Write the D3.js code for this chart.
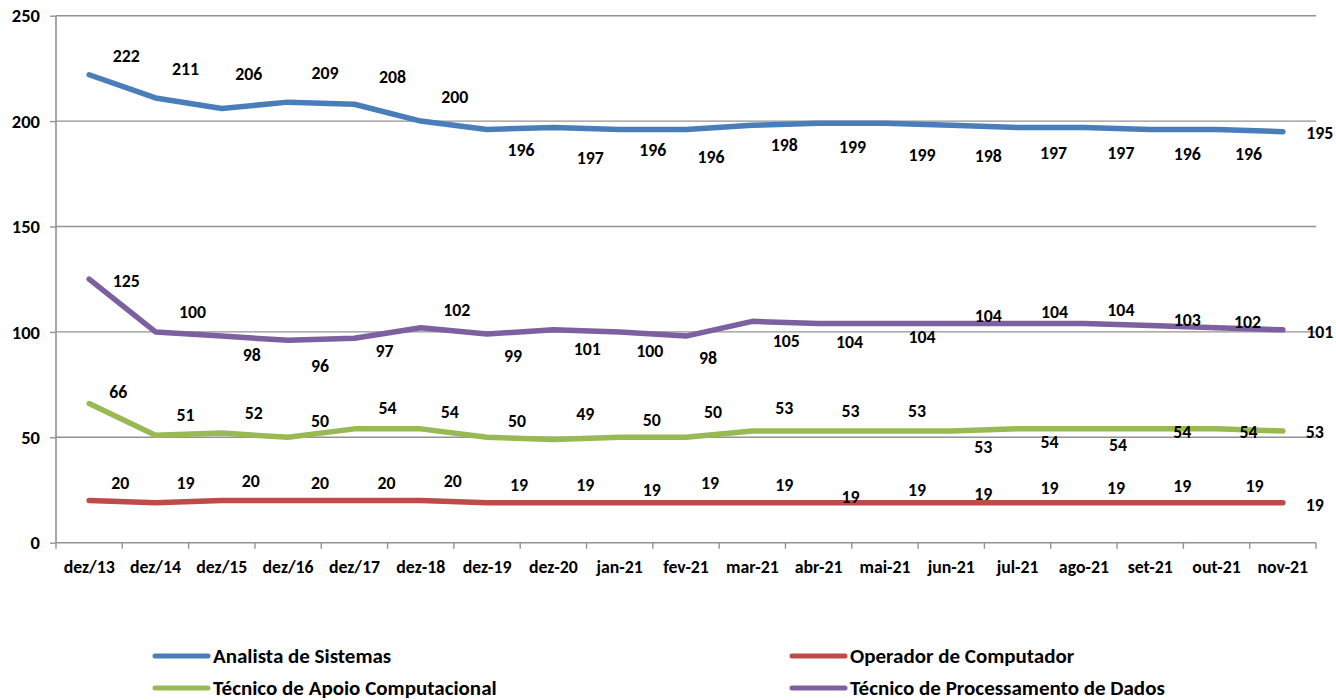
<!DOCTYPE html>
<html><head><meta charset="utf-8">
<script src="https://cdn.jsdelivr.net/npm/d3@7"></script>
<style>
html,body{margin:0;padding:0;background:#fff;}
svg text{font-family:Carlito,Lato,"Open Sans",sans-serif;font-weight:bold;fill:#000;}
</style></head>
<body>
<svg id="chart" width="1336" height="700"></svg>
<script>
const categories = ["dez/13","dez/14","dez/15","dez/16","dez/17","dez-18","dez-19","dez-20","jan-21","fev-21","mar-21","abr-21","mai-21","jun-21","jul-21","ago-21","set-21","out-21","nov-21"];
const analistaSistemas = [222,211,206,209,208,200,196,197,196,196,198,199,199,198,197,197,196,196,195];
const operadorComputador = [20,19,20,20,20,20,19,19,19,19,19,19,19,19,19,19,19,19,19];
const tecnicoApoio = [66,51,52,50,54,54,50,49,50,50,53,53,53,53,54,54,54,54,53];
const tecnicoProcessamento = [125,100,98,96,97,102,99,101,100,98,105,104,104,104,104,104,103,102,101];
const yTicks = [0,50,100,150,200,250];
const seriesNames = ["Analista de Sistemas","Operador de Computador","Técnico de Apoio Computacional","Técnico de Processamento de Dados"];

// label placement offsets (pixels from the point), as placed in the original
const offAnalista = [[37,-19],[30,-29],[27,-35],[37,-29],[38,-27],[34,-24],[34,20],[37,30],[33,20],[25,27],[32,19],[34,24],[37,32],[37,30],[36,25],[37,25],[37,24],[32,24],[37,1]];
const offOperador = [[31,-18],[30,-20],[29,-20],[32,-18],[32,-18],[32,-20],[32,-18],[32,-18],[32,-13],[24,-20],[32,-18],[32,-6],[32,-13],[32,-9],[32,-15],[32,-15],[32,-17],[38,-17],[32,2]];
const offApoio = [[29,-12],[30,-20],[32,-20],[32,-17],[33,-21],[29,-17],[30,-17],[32,-26],[32,-18],[27,-26],[32,-23],[32,-20],[32,-20],[32,16],[32,13],[34,16],[32,3],[32,3],[32,1]];
const offProcessamento = [[37,2],[37,-20],[30,19],[32,25],[30,13],[36,-18],[26,22],[34,19],[30,19],[22,22],[34,19],[31,18],[37,13],[37,-8],[37,-12],[37,-14],[37,-6],[31,-6],[37,2]];

const series = [
  {name: seriesNames[0], values: analistaSistemas, color: "#4A7EBB", off: offAnalista},
  {name: seriesNames[1], values: operadorComputador, color: "#BE4B48", off: offOperador},
  {name: seriesNames[2], values: tecnicoApoio, color: "#98B954", off: offApoio},
  {name: seriesNames[3], values: tecnicoProcessamento, color: "#7D60A0", off: offProcessamento}
];

const svg = d3.select("#chart");
const pLeft = 56, pRight = 1316, pTop = 15.7, pBottom = 542.7;
const x = d3.scaleBand().domain(categories).range([pLeft, pRight]).padding(0);
const y = d3.scaleLinear().domain([0, 250]).range([pBottom, pTop]);
const cx = c => x(c) + x.bandwidth() / 2;
const gridColor = "#929292";

// gridlines
svg.append("g").selectAll("line").data(yTicks.filter(t => t > 0)).join("line")
  .attr("x1", pLeft).attr("x2", pRight)
  .attr("y1", d => y(d)).attr("y2", d => y(d))
  .attr("stroke", gridColor).attr("stroke-width", 1.4);

// y axis
const ya = svg.append("g").attr("transform", `translate(${pLeft},0)`)
  .call(d3.axisLeft(y).tickValues(yTicks).tickSize(6).tickPadding(10).tickFormat(d3.format("d")));
ya.select(".domain").attr("stroke", gridColor).attr("stroke-width", 1.6).attr("d", `M0,${pTop}V${pBottom}`);
ya.selectAll(".tick line").attr("stroke", gridColor).attr("stroke-width", 1.4);
ya.selectAll(".tick text").style("font-size", "18.5px").attr("dy", "0.33em");

// x axis
const xa = svg.append("g").attr("transform", `translate(0,${pBottom})`)
  .call(d3.axisBottom(x).tickSize(0).tickPadding(18));
xa.select(".domain").attr("stroke", gridColor).attr("stroke-width", 1.6).attr("d", `M${pLeft},0H${pRight}`);
xa.selectAll(".tick text").style("font-size", "17.8px");
const bounds = categories.map(c => x(c)).concat([x.range()[1]]);
xa.selectAll("line.bt").data(bounds).join("line").attr("class", "bt")
  .attr("x1", d => d).attr("x2", d => d).attr("y1", 0).attr("y2", 6)
  .attr("stroke", gridColor).attr("stroke-width", 1.4);

// lines
const line = d3.line().x((d, i) => cx(categories[i])).y(d => y(d));
svg.append("g").selectAll("path").data(series).join("path")
  .attr("d", s => line(s.values))
  .attr("fill", "none").attr("stroke", s => s.color).attr("stroke-width", 5.5)
  .attr("stroke-linejoin", "round").attr("stroke-linecap", "round");

// labels
series.forEach(s => {
  svg.append("g").selectAll("text").data(s.values).join("text")
    .attr("x", (d, i) => cx(categories[i]) + s.off[i][0])
    .attr("y", (d, i) => y(d) + s.off[i][1])
    .attr("dy", "0.35em").attr("text-anchor", "middle")
    .style("font-size", "17.8px")
    .text(d => d);
});

// legend
const legendPos = [[153, 656], [790, 656], [153, 688], [790, 688]];
const lg = svg.append("g").selectAll("g").data(series).join("g")
  .attr("transform", (s, i) => `translate(${legendPos[i][0]},${legendPos[i][1]})`);
lg.append("line").attr("x1", 2).attr("x2", 55).attr("y1", 0).attr("y2", 0)
  .attr("stroke", s => s.color).attr("stroke-width", 5).attr("stroke-linecap", "round");
lg.append("text").attr("x", 60).attr("y", 0).attr("dy", "0.33em")
  .style("font-size", "21px").text(s => s.name);
</script>
</body></html>
